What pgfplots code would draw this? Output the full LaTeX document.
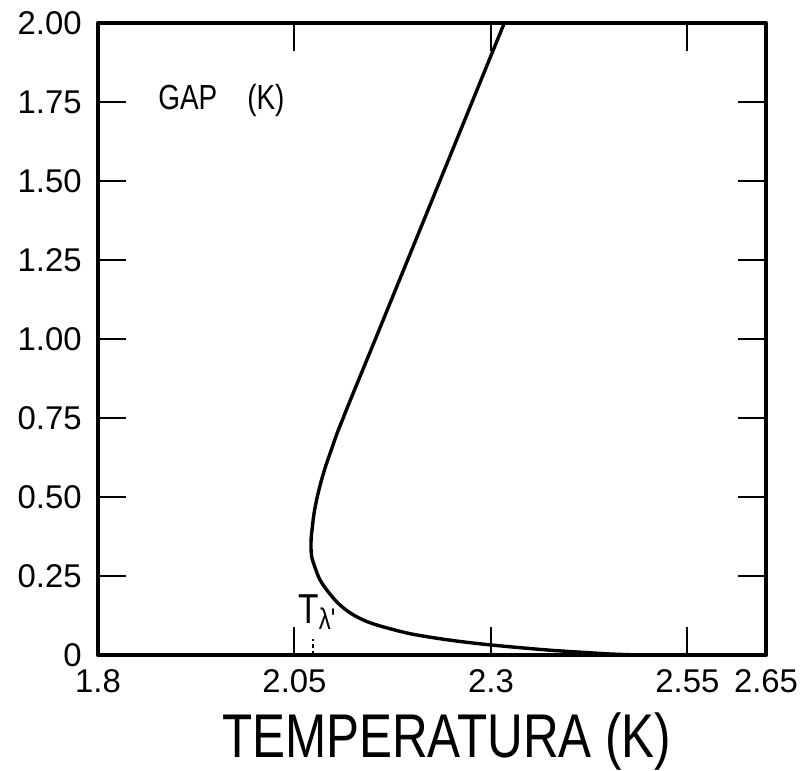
\documentclass[border=0pt]{standalone}
\usepackage{fontspec}
\setmainfont{Liberation Sans}
\newfontfamily\cond[FakeStretch=0.8]{Liberation Sans}
\usepackage{pgfplots}
\pgfplotsset{compat=1.18}

\begin{document}
\begin{tikzpicture}
  \begin{axis}[
    scale only axis,
    width=334bp, height=316bp,
    xmin=1.8, xmax=2.65,
    ymin=0, ymax=2,
    axis line style={line width=2.2bp, line join=round},
    tick style={line width=1bp, black},
    major tick length=14bp,
    xtick={1.8,2.05,2.3,2.55,2.65},
    xticklabels={1.8,2.05,2.3,2.55,2.65},
    ytick={0,0.25,0.5,0.75,1,1.25,1.5,1.75,2},
    yticklabels={0,0.25,0.50,0.75,1.00,1.25,1.50,1.75,2.00},
    tick label style={font=\fontsize{16.5}{16.5}\selectfont, inner sep=0pt},
    xticklabel style={anchor=base, yshift=-18.5bp},
    yticklabel style={anchor=east, xshift=-8bp},
    xlabel={\cond TEMPERATURA (K)},
    xlabel style={at={(axis description cs:0.522,0)}, anchor=center,
      yshift=-43.5bp, inner sep=0pt, font=\fontsize{31}{31}\selectfont},
    clip=false,
  ]
    \addplot[line width=1.7bp, smooth, black] coordinates {
      (2.49, 0.0)
      (2.454, 0.003)
      (2.42, 0.008)
      (2.371, 0.016)
      (2.299, 0.032)
      (2.248, 0.047)
      (2.200, 0.066)
      (2.163, 0.089)
      (2.140, 0.108)
      (2.121, 0.133)
      (2.105, 0.165)
      (2.091, 0.206)
      (2.082, 0.240)
      (2.076, 0.278)
      (2.072, 0.310)
      (2.071, 0.342)
      (2.0713, 0.37)
      (2.0725, 0.40)
      (2.075, 0.45)
      (2.079, 0.50)
      (2.084, 0.55)
      (2.090, 0.60)
      (2.097, 0.65)
      (2.104, 0.70)
      (2.112, 0.75)
      (2.120, 0.80)
      (2.153, 1.00)
      (2.194, 1.25)
      (2.235, 1.50)
      (2.276, 1.75)
      (2.317, 2.00)
    };
    % T_lambda' marker on the temperature axis
    \draw[line width=0.8bp, dash pattern=on 2bp off 1.5bp] (axis cs:2.0735,0) -- (axis cs:2.0735,0.05);
    \node[anchor=base west, inner sep=0pt, font=\cond\fontsize{21}{21}\selectfont]
      at (axis cs:2.0545,0.101) {T\raisebox{-3bp}{\fontsize{15}{15}\selectfont λ'}};
    \node[anchor=base west, inner sep=0pt, font=\cond\fontsize{17.5}{17.5}\selectfont]
      at (axis cs:1.8763,1.7247) {GAP\hspace{15bp}(K)};
    \coordinate (sw) at (rel axis cs:0,0);
    \coordinate (ne) at (rel axis cs:1,1);
  \end{axis}
  \path (sw) ++(-49bp,-57.5bp) coordinate (a);
  \path (ne) ++(20.5bp,11.5bp) coordinate (b);
  \path (a) rectangle (b);
\end{tikzpicture}
\end{document}
